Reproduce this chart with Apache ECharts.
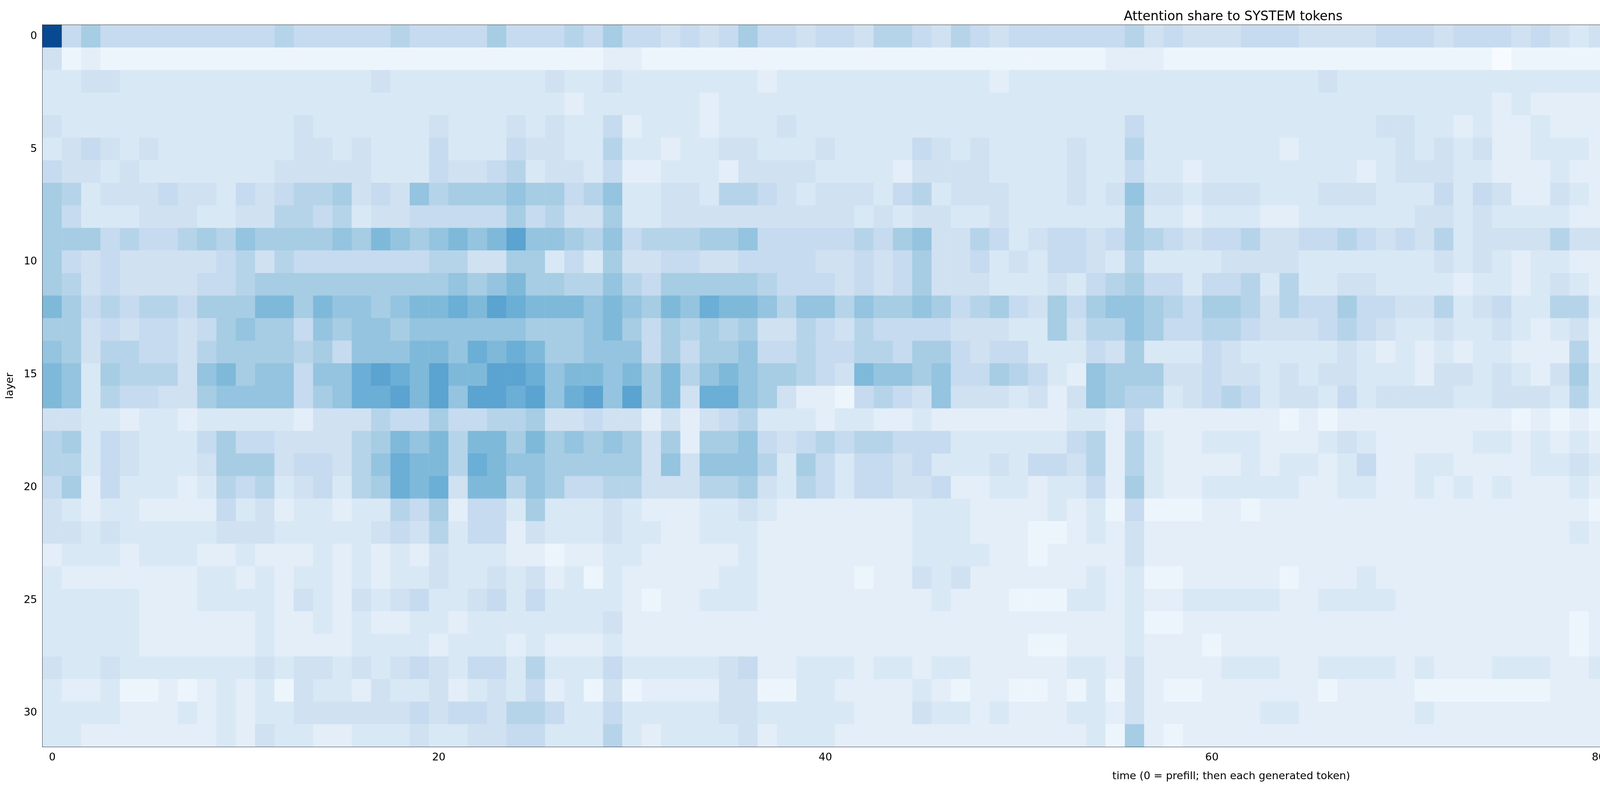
<!DOCTYPE html>
<html>
<head>
<meta charset="utf-8">
<script src="https://cdn.jsdelivr.net/npm/echarts@6/dist/echarts.min.js"></script>
<style>html,body{margin:0;padding:0;background:#fff}#chart{width:7748px;height:2015px}</style>
</head>
<body>
<div id="chart"></div>
<script>
// each char is a cell value in twentieths: 0-9 then a=10 ... i=18
// one string per layer; groups of 5 time steps (123 steps)
var layerRows = [
	"i5755 55555 55655 55565 55575 55657 55454 57554 55466 54654 55555 56454 44555 44445 55455 54543 43333 35333 44434 43643 44644 44464 46454 44446 445",
	"41211 11111 11111 11111 11111 11112 21111 11111 11111 11111 11111 22211 11111 11111 11111 01111 11111 11111 11111 11111 11111 11111 11111 11112 111",
	"33443 33333 33333 33433 33333 34334 33333 33233 33333 33332 33333 33333 33333 34333 33333 33333 33332 32222 33322 22222 33323 32223 22333 33334 333",
	"33333 33333 33333 33333 33333 33233 33332 33333 33333 33333 33333 33333 33333 33333 33333 23222 22222 22222 22222 22222 22222 22222 22222 22233 222",
	"43333 33333 33343 33333 43334 34335 23332 33343 33333 33333 33333 35333 33333 33334 43323 22322 22232 32222 22232 22222 32222 22222 22232 22233 223",
	"34543 43333 33344 34333 53335 44336 33233 44333 43333 54343 33343 36333 33332 33333 43434 22333 23342 33223 33333 33333 33333 33333 33333 33343 222",
	"54434 33333 33444 44333 54456 34435 22333 24444 33332 44443 33343 35332 33333 33323 44433 22232 23223 32222 22232 22222 22222 22222 22233 33234 223",
	"76344 45443 54566 74548 67778 77568 33443 66543 44435 63444 33343 48443 44433 34443 33535 42243 24233 43224 33333 33443 43333 33433 33332 32232 222",
	"75333 44433 44665 63445 55557 56447 33444 44444 44343 44334 33333 37332 33322 33333 34434 33332 23333 33345 33334 43554 55445 54654 44542 32232 223",
	"77756 55676 87777 87987 8989b 88768 56667 78555 55657 84465 34554 57654 55644 55654 54634 44464 47444 66346 44544 55465 55556 65665 65642 32343 334",
	"75454 44445 64655 55555 66447 73537 44554 45555 44545 74453 43554 36333 34444 33333 33434 32332 23222 33333 32333 33333 33333 33333 33322 22222 222",
	"76454 44455 67777 77777 78789 77668 65777 77655 54545 74443 33435 67553 55636 33443 33323 32343 25232 43446 55388 89989 b9a8b aabba 99942 22222 222",
	"97565 66577 79979 88789 9a9ba 99989 8798a 99868 86877 87567 54757 88765 77646 55755 44634 53366 36233 44446 77388 899aa 9ab9c aabba 9aa33 33332 223",
	"77454 55457 87758 78878 88888 77789 75767 67446 54655 55444 33746 68755 66544 45654 33433 43234 25233 77568 763aa abacb ccbbd baddc aca43 23222 222",
	"87466 55467 77767 58889 98a9a 97788 85757 78556 55665 77545 53335 47333 54333 33432 32323 32226 24223 46567 77399 aaaba b999d cbcbb 88a44 22222 222",
	"98376 66489 78858 8aba9 b99bb a8998 97968 98776 54988 78557 65328 77744 54434 34433 32443 43247 34344 46578 876cb eeded cbcde eeeee ccc67 23341 234",
	"98365 54478 88857 8aab9 b8bba b8ab8 b794a a8742 21565 48444 34248 76634 56534 43534 44433 44436 34444 5769a 877ef gffff decef fffef cde67 24341 222",
	"44332 33233 33324 44655 75566 74454 42424 56333 23322 32222 22233 25222 22221 21222 22222 21212 12222 33356 53367 78778 65456 66776 66633 11123 112",
	"67354 33357 55444 46798 96997 97878 74727 78545 65665 55333 33356 26322 33322 23432 22223 32323 23223 33468 745bc cbbbb 887a9 abba8 87845 23432 122",
	"66354 33347 77455 468a9 96a98 87777 74848 88637 53554 53334 35546 26322 22323 32352 23322 22334 33222 23446 44489 9b899 66576 7a877 77644 23332 333",
	"57253 33236 56345 367a9 a4996 87556 64446 67436 53554 45223 32335 27322 33333 22332 23232 32223 23322 33334 32367 77677 65566 78766 66544 23221 222",
	"43233 22225 34233 23365 72553 73334 32223 34322 22222 33322 22323 15111 22122 22222 22222 22222 12222 33445 43256 55576 43345 45444 44422 12111 111",
	"44343 33334 44333 33454 63552 43334 33223 33222 22222 33322 21123 24222 22222 22222 22222 22223 22222 23333 32234 44444 32334 33332 33322 12213 111",
	"23332 33322 32223 23232 43332 21223 32222 23222 22222 33332 21222 24222 22222 22222 22222 22222 22222 22222 22223 42223 22122 33222 22212 22213 111",
	"32222 22233 23233 23233 43343 42313 22222 33222 22122 43422 22223 23112 22221 22232 22222 22222 22222 22332 22224 44344 21222 34223 33211 01122 111",
	"33333 22233 33243 24345 33453 53333 21223 33222 22222 23222 11133 23223 33332 23333 22222 22222 22222 22222 22244 44433 22232 33322 33221 12212 211",
	"33333 22222 23223 23223 32333 33334 22222 22222 22222 22222 22222 23112 22222 22222 22222 22221 22222 22323 22233 44433 22232 34322 32222 12122 121",
	"33333 22222 23222 23333 23332 32223 22222 22222 22222 22222 21122 23222 12222 22222 22222 22221 23222 22233 22233 33333 22221 22222 22211 12123 111",
	"43343 33333 34344 34345 43553 63335 33333 45223 33233 23322 22233 24222 23332 23333 23222 33322 33223 33334 42244 44444 43343 44333 43222 12222 222",
	"32231 12123 23143 32433 42343 52314 12222 44113 32222 32122 11213 14211 22222 21222 21111 11122 22122 22223 21235 33333 32223 33223 32121 01122 101",
	"33332 22323 23344 44445 45546 65335 33333 44333 33222 43323 22233 24222 22233 22222 23222 22222 22212 22334 32235 34444 33333 44333 43322 12122 221",
	"33222 22223 24332 23334 33445 53336 32333 34233 32222 22222 22223 17212 22222 22222 22222 22222 22212 12222 22223 22222 21111 22212 31131 01136 122"
];
var timeSteps = [];
for (var t = 0; t < 123; t++) timeSteps.push(String(t));
var layers = [];
for (var l = 0; l < 32; l++) layers.push(String(l));
var colorbarTicks = [0, 0.2, 0.4, 0.6, 0.8, 1.0];

var blues = ["#f7fbff", "#deebf7", "#c6dbef", "#9ecae1", "#6baed6", "#4292c6", "#2171b5", "#08519c", "#08306b"];
var codes = "0123456789abcdefghijk";

var cells = [];
layerRows.forEach(function (row, y) {
	row.replace(/ /g, "").split("").forEach(function (ch, x) {
		if (x < 123) cells.push([x, y, codes.indexOf(ch) / 20]);
	});
});

var font = "DejaVu Sans";
var chart = echarts.init(document.getElementById("chart"), null, { renderer: "canvas" });
chart.setOption({
	animation: false,
	backgroundColor: "#fff",
	title: {
		text: "Attention share to SYSTEM tokens",
		left: 3152, top: 22, textAlign: "center",
		textStyle: { fontFamily: font, fontSize: 33, fontWeight: "normal", color: "#000" }
	},
	grid: [
		{ left: 109, top: 64, width: 6086, height: 1848, show: true, borderColor: "#000", borderWidth: 2, backgroundColor: "transparent" },
		{ left: 6577, top: 64, width: 103, height: 1848, show: true, borderColor: "#000", borderWidth: 2,
			backgroundColor: new echarts.graphic.LinearGradient(0, 1, 0, 0, blues.map(function (c, i) { return { offset: i / 8, color: c }; })) }
	],
	xAxis: [
		{
			type: "category", data: timeSteps, gridIndex: 0,
			name: "time (0 = prefill; then each generated token)", nameLocation: "middle", nameGap: 62,
			nameTextStyle: { fontFamily: font, fontSize: 27, color: "#000" },
			axisLine: { lineStyle: { color: "#000", width: 2 } },
			axisTick: { alignWithLabel: true, length: 10, lineStyle: { color: "#000", width: 2 }, interval: function (i) { return i % 20 === 0; } },
			axisLabel: { fontFamily: font, fontSize: 27, color: "#000", margin: 14, interval: function (i) { return i % 20 === 0; } },
			splitLine: { show: false }
		},
		{ type: "value", gridIndex: 1, show: false, min: 0, max: 1 }
	],
	yAxis: [
		{
			type: "category", data: layers, inverse: true, gridIndex: 0,
			name: "layer", nameLocation: "middle", nameGap: 70, nameRotate: 90,
			nameTextStyle: { fontFamily: font, fontSize: 27, color: "#000" },
			axisLine: { lineStyle: { color: "#000", width: 2 } },
			axisTick: { alignWithLabel: true, length: 10, lineStyle: { color: "#000", width: 2 }, interval: function (i) { return i % 5 === 0; } },
			axisLabel: { fontFamily: font, fontSize: 27, color: "#000", margin: 14, interval: function (i) { return i % 5 === 0; } },
			splitLine: { show: false }
		},
		{
			type: "value", gridIndex: 1, position: "right", min: 0, max: 1, interval: 0.2,
			axisLine: { show: true, lineStyle: { color: "#000", width: 2 } },
			axisTick: { show: true, length: 10, lineStyle: { color: "#000", width: 2 } },
			axisLabel: { fontFamily: font, fontSize: 27, color: "#000", margin: 14,
				formatter: function (v) { return colorbarTicks.indexOf(v) >= 0 ? v.toFixed(1) : ""; } },
			splitLine: { show: false }
		}
	],
	visualMap: {
		show: false, min: 0, max: 1, seriesIndex: 0, dimension: 2,
		inRange: { color: blues }
	},
	series: [{
		type: "heatmap", xAxisIndex: 0, yAxisIndex: 0, data: cells,
		itemStyle: { borderWidth: 0 }, emphasis: { disabled: true }
	}]
});
</script>
</body>
</html>
